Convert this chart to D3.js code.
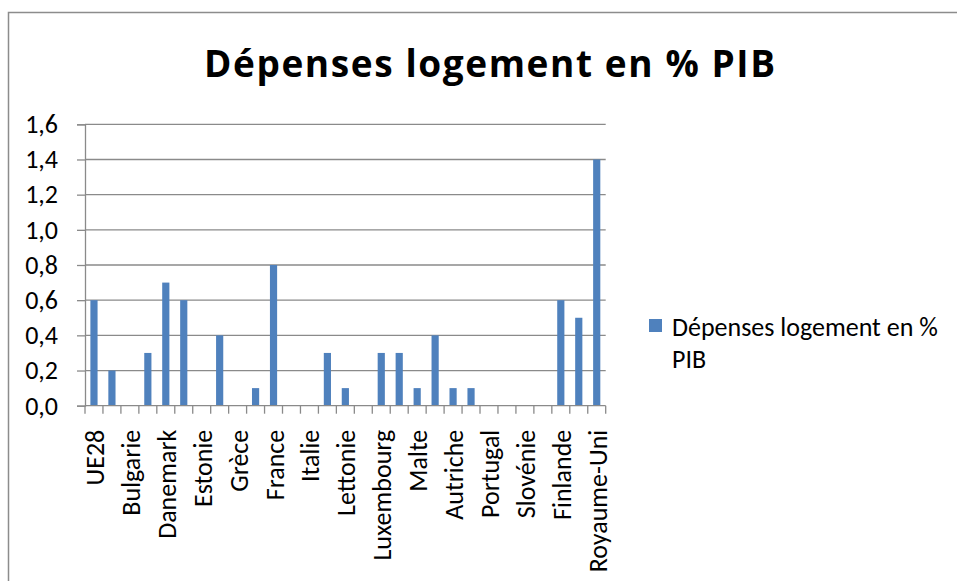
<!DOCTYPE html>
<html>
<head>
<meta charset="utf-8">
<script src="https://cdn.jsdelivr.net/npm/d3@7"></script>
<style>
  body { margin: 0; background: #fff; }
  text { font-family: Carlito, Lato, "Open Sans", sans-serif; fill: #000; }
</style>
</head>
<body>
<div id="chart"></div>
<script>
// chart data
var countries = ["UE28", "Belgique", "Bulgarie", "Rép. tchèque", "Danemark", "Allemagne",
    "Estonie", "Irlande", "Grèce", "Espagne", "France", "Croatie", "Italie", "Chypre",
    "Lettonie", "Lituanie", "Luxembourg", "Hongrie", "Malte", "Pays-Bas", "Autriche",
    "Pologne", "Portugal", "Roumanie", "Slovénie", "Slovaquie", "Finlande", "Suède", "Royaume-Uni"];
var depenses = [0.6, 0.2, 0, 0.3, 0.7, 0.6, 0, 0.4, 0, 0.1, 0.8, 0, 0, 0.3,
    0.1, 0, 0.3, 0.3, 0.1, 0.4, 0.1, 0.1, 0, 0, 0, 0, 0.6, 0.5, 1.4];
var yTicks = [0, 0.2, 0.4, 0.6, 0.8, 1.0, 1.2, 1.4, 1.6];
var titleText = "Dépenses logement en % PIB";
var seriesName = "Dépenses logement en % PIB";

var width = 957, height = 581;
var margin = {top: 124.3, left: 85, right: 351.3, bottom: 175.3};
var labelSize = 26;

var svg = d3.select("#chart").append("svg")
    .attr("width", width)
    .attr("height", height);

// outer frame of the chart (runs off the right and bottom)
svg.append("rect")
    .attr("x", 8.5).attr("y", 12.5)
    .attr("width", 1000).attr("height", 1000)
    .attr("fill", "none")
    .attr("stroke", "#8c8c8c")
    .attr("stroke-width", 1.5);

var x = d3.scaleBand()
    .domain(countries)
    .range([margin.left, width - margin.right])
    .paddingInner(0.6)
    .paddingOuter(0.3);

// band without padding, for tick positions
var xCat = d3.scaleBand()
    .domain(countries)
    .range([margin.left, width - margin.right]);

var y = d3.scaleLinear()
    .domain([0, 1.6])
    .range([height - margin.bottom, margin.top]);

var gridColor = "#8a8a8a";

// gridlines
svg.append("g")
    .selectAll("line")
    .data(yTicks.slice(1))
    .enter().append("line")
    .attr("x1", margin.left).attr("x2", width - margin.right)
    .attr("y1", function(d){ return y(d); })
    .attr("y2", function(d){ return y(d); })
    .attr("stroke", gridColor)
    .attr("stroke-width", 1.3);

// y axis
var yAxis = d3.axisLeft(y)
    .tickValues(yTicks)
    .tickSize(8)
    .tickPadding(19)
    .tickFormat(function(d){ return d3.format(".1f")(d).replace(".", ","); });

var gy = svg.append("g")
    .attr("transform", "translate(" + margin.left + ",0)")
    .call(yAxis);
gy.select(".domain").attr("stroke", gridColor).attr("stroke-width", 1.3);
gy.selectAll(".tick line").attr("stroke", gridColor).attr("stroke-width", 1.3);
gy.selectAll(".tick text")
    .attr("font-size", labelSize)
    .attr("font-family", "Carlito, Lato, sans-serif")
    .attr("fill", "#000");

// bars
svg.append("g")
    .selectAll("rect")
    .data(countries)
    .enter().append("rect")
    .attr("x", function(d){ return x(d); })
    .attr("width", x.bandwidth())
    .attr("y", function(d, i){ return y(depenses[i]); })
    .attr("height", function(d, i){ return y(0) - y(depenses[i]); })
    .attr("fill", "#4f81bd");

// x axis line and ticks at category boundaries
var gx = svg.append("g")
    .attr("transform", "translate(0," + y(0) + ")");
gx.append("line")
    .attr("x1", margin.left).attr("x2", width - margin.right)
    .attr("stroke", gridColor).attr("stroke-width", 1.3);
gx.selectAll(".xt")
    .data(countries.concat(["end"]))
    .enter().append("line")
    .attr("class", "xt")
    .attr("x1", function(d, i){ return i < countries.length ? xCat(d) : width - margin.right; })
    .attr("x2", function(d, i){ return i < countries.length ? xCat(d) : width - margin.right; })
    .attr("y1", 0).attr("y2", 8)
    .attr("stroke", gridColor).attr("stroke-width", 1.3);

// every second category label, rotated
gx.selectAll(".xl")
    .data(countries.filter(function(d, i){ return i % 2 == 0; }))
    .enter().append("text")
    .attr("class", "xl")
    .attr("transform", function(d){
        return "translate(" + (xCat(d) + xCat.bandwidth() / 2 + 10) + ",24) rotate(-90)";
    })
    .attr("text-anchor", "end")
    .attr("font-size", labelSize)
    .text(function(d){ return d; });

// title
svg.append("text")
    .attr("x", 489.5).attr("y", 77)
    .attr("text-anchor", "middle")
    .attr("font-size", 37)
    .attr("font-weight", "bold")
    .style("font-family", "'Open Sans', Lato, sans-serif")
    .attr("textLength", 571)
    .text(titleText);

// legend
var legend = svg.append("g").attr("transform", "translate(649,319)");
legend.append("rect")
    .attr("width", 13).attr("height", 13)
    .attr("fill", "#4f81bd");
var words = seriesName.split(" ");
legend.append("text")
    .attr("x", 23).attr("y", 17)
    .attr("font-size", labelSize)
    .text(words.slice(0, 4).join(" "));
legend.append("text")
    .attr("x", 23).attr("y", 49)
    .attr("font-size", labelSize)
    .text(words.slice(4).join(" "));
</script>
</body>
</html>
